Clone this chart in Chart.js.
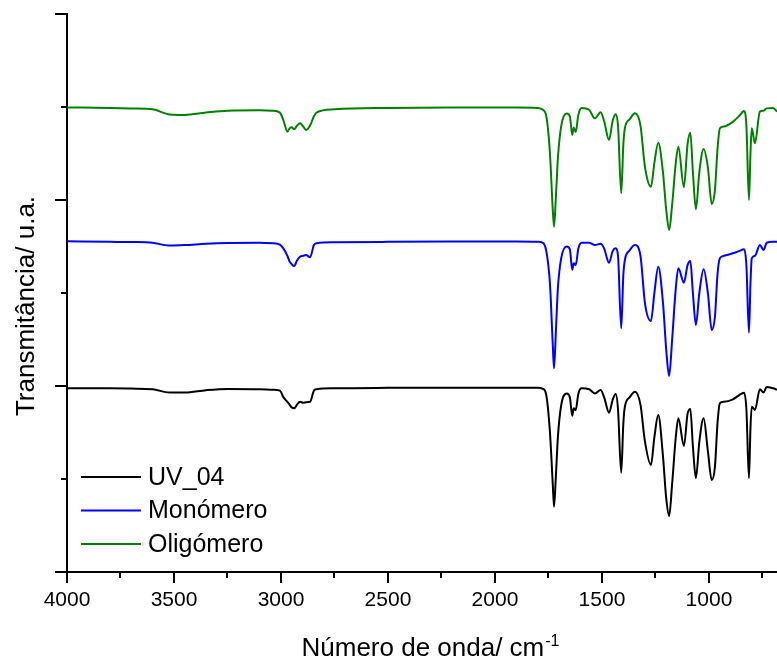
<!DOCTYPE html>
<html lang="pt">
<head>
    <meta charset="UTF-8">
    <title>FTIR</title>
    <script src="https://cdn.jsdelivr.net/npm/chart.js"></script>
    <style>
        body {
            margin: 0;
            background: #fff;
        }
        #wrap {
            width: 777px;
            height: 660px;
        }
    </style>
</head>
<body>
    <div id="wrap"><canvas id="ftirChart" width="777" height="660"></canvas></div>

    <script>
        // wavenumbers (cm-1), shared by the three spectra
        const wavenumbers = [
            4000, 3800, 3700, 3600, 3520, 3450, 3350, 3250, 3100, 3040,
            3005, 2989, 2970, 2960, 2950, 2938, 2925, 2911, 2896, 2883,
            2864, 2846, 2833, 2750, 2500, 2200, 1900, 1800, 1776, 1760,
            1743, 1730, 1724, 1716, 1706, 1690, 1665, 1650, 1639, 1632,
            1623, 1610, 1595, 1560, 1533, 1506, 1490, 1467, 1450, 1436,
            1425, 1410, 1400, 1393, 1370, 1346, 1320, 1299, 1271, 1255,
            1237, 1215, 1200, 1186, 1172, 1155, 1143, 1117, 1100, 1087,
            1075, 1061, 1045, 1025, 1005, 987, 972, 960, 949, 930,
            888, 860, 836, 825, 813, 806, 800, 785, 762, 745,
            730, 700, 682
        ];

        const uv04 = [
            1.975, 1.975, 1.972, 1.965, 1.93, 1.93, 1.955, 1.968, 1.965, 1.96,
            1.95, 1.88, 1.83, 1.80, 1.77, 1.76, 1.80, 1.83, 1.82, 1.825,
            1.83, 1.95, 1.965, 1.975, 1.98, 1.982, 1.982, 1.98, 1.97, 1.90,
            1.50, 0.95, 0.702, 1.00, 1.45, 1.80, 1.92, 1.88, 1.68, 1.76,
            1.74, 1.92, 1.975, 1.965, 1.92, 1.957, 1.88, 1.713, 1.85, 1.914,
            1.75, 1.068, 1.60, 1.778, 1.88, 1.939, 1.80, 1.401, 1.151, 1.45,
            1.688, 1.25, 0.80, 0.602, 0.95, 1.45, 1.653, 1.355, 1.70, 1.753,
            1.35, 1.008, 1.40, 1.653, 1.30, 0.989, 1.133, 1.60, 1.814, 1.83,
            1.857, 1.90, 1.928, 1.75, 1.008, 1.55, 1.778, 1.742, 1.964, 1.93,
            1.99, 1.975, 1.96
        ];

        const monomero = [
            3.556, 3.55, 3.548, 3.54, 3.51, 3.515, 3.53, 3.538, 3.54, 3.535,
            3.52, 3.48, 3.40, 3.34, 3.31, 3.29, 3.35, 3.39, 3.40, 3.409,
            3.384, 3.516, 3.535, 3.545, 3.55, 3.553, 3.553, 3.55, 3.54, 3.45,
            3.10, 2.45, 2.19, 2.55, 3.05, 3.38, 3.50, 3.47, 3.25, 3.32,
            3.30, 3.48, 3.54, 3.54, 3.516, 3.53, 3.48, 3.326, 3.45, 3.48,
            3.40, 2.62, 3.20, 3.355, 3.46, 3.516, 3.40, 2.889, 2.699, 3.00,
            3.283, 2.90, 2.40, 2.108, 2.50, 3.05, 3.265, 3.111, 3.30, 3.344,
            3.00, 2.656, 3.00, 3.255, 3.00, 2.602, 2.745, 3.20, 3.373, 3.40,
            3.427, 3.45, 3.47, 3.30, 2.573, 3.10, 3.373, 3.40, 3.516, 3.462,
            3.54, 3.55, 3.552
        ];

        const oligomero = [
            4.995, 4.99, 4.985, 4.975, 4.92, 4.915, 4.94, 4.96, 4.965, 4.96,
            4.94, 4.86, 4.735, 4.77, 4.782, 4.76, 4.80, 4.825, 4.79, 4.753,
            4.80, 4.90, 4.943, 4.975, 4.99, 4.995, 4.995, 4.99, 4.97, 4.90,
            4.50, 3.90, 3.713, 4.00, 4.45, 4.80, 4.93, 4.90, 4.70, 4.78,
            4.73, 4.92, 4.99, 4.97, 4.878, 4.943, 4.85, 4.645, 4.85, 4.922,
            4.80, 4.072, 4.60, 4.771, 4.87, 4.932, 4.80, 4.355, 4.143, 4.40,
            4.616, 4.30, 3.90, 3.677, 3.95, 4.40, 4.573, 4.137, 4.60, 4.724,
            4.30, 3.90, 4.30, 4.548, 4.35, 3.957, 4.108, 4.55, 4.771, 4.79,
            4.842, 4.90, 4.957, 4.80, 4.00, 4.50, 4.771, 4.61, 4.95, 4.96,
            4.985, 4.99, 4.95
        ];

        const seriesNames = ['UV_04', 'Monómero', 'Oligómero'];
        const seriesColors = ['#000000', '#0000ff', '#008000'];

        const xMajorTicks = [4000, 3500, 3000, 2500, 2000, 1500, 1000];
        const xMinorTicks = [3750, 3250, 2750, 2250, 1750, 1250, 750];
        const yMajorTicks = [0, 2, 4, 6];
        const yMinorTicks = [1, 3, 5];

        const FONT = '"Liberation Sans", Arial, sans-serif';

        function toPoints(values) {
            return wavenumbers.map((wn, i) => ({ x: wn, y: values[i] }));
        }

        // tick marks, axis titles and the legend box inside the plot
        const decorations = {
            id: 'decorations',
            afterDraw(chart) {
                const ctx = chart.ctx;
                const area = chart.chartArea;
                const xs = chart.scales.x;
                const ys = chart.scales.y;

                ctx.save();
                ctx.strokeStyle = '#000';
                ctx.lineWidth = 2;
                ctx.beginPath();
                xMajorTicks.forEach(v => {
                    const px = Math.round(xs.getPixelForValue(v));
                    ctx.moveTo(px, area.bottom);
                    ctx.lineTo(px, area.bottom + 11);
                });
                xMinorTicks.forEach(v => {
                    const px = Math.round(xs.getPixelForValue(v));
                    ctx.moveTo(px, area.bottom);
                    ctx.lineTo(px, area.bottom + 6);
                });
                yMajorTicks.forEach(v => {
                    const py = Math.round(ys.getPixelForValue(v));
                    ctx.moveTo(area.left, py);
                    ctx.lineTo(area.left - 12, py);
                });
                yMinorTicks.forEach(v => {
                    const py = Math.round(ys.getPixelForValue(v));
                    ctx.moveTo(area.left, py);
                    ctx.lineTo(area.left - 6, py);
                });
                ctx.stroke();

                // y title
                ctx.fillStyle = '#000';
                ctx.font = '26px ' + FONT;
                ctx.textAlign = 'center';
                ctx.textBaseline = 'middle';
                ctx.save();
                ctx.translate(27, (area.top + area.bottom) / 2 + 13);
                ctx.rotate(-Math.PI / 2);
                ctx.fillText('Transmitância/ u.a.', 0, 0);
                ctx.restore();

                // x title with superscript
                const main = 'Número de onda/ cm';
                const sup = '-1';
                ctx.font = '26px ' + FONT;
                const w1 = ctx.measureText(main).width;
                ctx.font = '16px ' + FONT;
                const w2 = ctx.measureText(sup).width;
                const cx = (area.left + area.right) / 2 + 8;
                const startX = cx - (w1 + w2) / 2;
                ctx.textAlign = 'left';
                ctx.textBaseline = 'alphabetic';
                ctx.font = '26px ' + FONT;
                ctx.fillText(main, startX, area.bottom + 84);
                ctx.font = '16px ' + FONT;
                ctx.fillText(sup, startX + w1 + 1, area.bottom + 74);

                // legend
                ctx.font = '25px ' + FONT;
                ctx.textBaseline = 'middle';
                chart.data.datasets.forEach((ds, i) => {
                    const ly = area.bottom - 95 + i * 33.5;
                    ctx.strokeStyle = ds.borderColor;
                    ctx.lineWidth = 2;
                    ctx.beginPath();
                    ctx.moveTo(area.left + 14, ly);
                    ctx.lineTo(area.left + 74, ly);
                    ctx.stroke();
                    ctx.fillStyle = '#000';
                    ctx.fillText(ds.label, area.left + 81, ly + 1);
                });
                ctx.restore();
            }
        };

        const ctx = document.getElementById('ftirChart').getContext('2d');
        new Chart(ctx, {
            type: 'line',
            data: {
                datasets: [
                    { label: seriesNames[0], data: toPoints(uv04), borderColor: seriesColors[0] },
                    { label: seriesNames[1], data: toPoints(monomero), borderColor: seriesColors[1] },
                    { label: seriesNames[2], data: toPoints(oligomero), borderColor: seriesColors[2] }
                ]
            },
            options: {
                responsive: false,
                animation: false,
                devicePixelRatio: 1,
                layout: { padding: { top: 14, right: 0, left: 0, bottom: 0 } },
                elements: {
                    point: { radius: 0 },
                    line: { borderWidth: 2, cubicInterpolationMode: 'monotone', fill: false }
                },
                plugins: {
                    legend: { display: false },
                    tooltip: { enabled: false }
                },
                scales: {
                    x: {
                        type: 'linear',
                        reverse: true,
                        min: 682,
                        max: 4000,
                        afterBuildTicks: scale => {
                            scale.ticks = xMajorTicks.map(v => ({ value: v }));
                        },
                        afterFit: scale => { scale.height = 88; },
                        grid: { display: false, drawTicks: false },
                        border: { display: true, color: '#000', width: 2 },
                        ticks: {
                            color: '#000',
                            font: { family: FONT, size: 21 },
                            padding: 16,
                            maxRotation: 0,
                            autoSkip: false,
                            callback: v => String(v)
                        }
                    },
                    y: {
                        min: 0,
                        max: 6,
                        afterBuildTicks: scale => {
                            scale.ticks = yMajorTicks.map(v => ({ value: v }));
                        },
                        afterFit: scale => { scale.width = 67; },
                        grid: { display: false, drawTicks: false },
                        border: { display: true, color: '#000', width: 2 },
                        ticks: { display: false }
                    }
                }
            },
            plugins: [decorations]
        });
    </script>
</body>
</html>
